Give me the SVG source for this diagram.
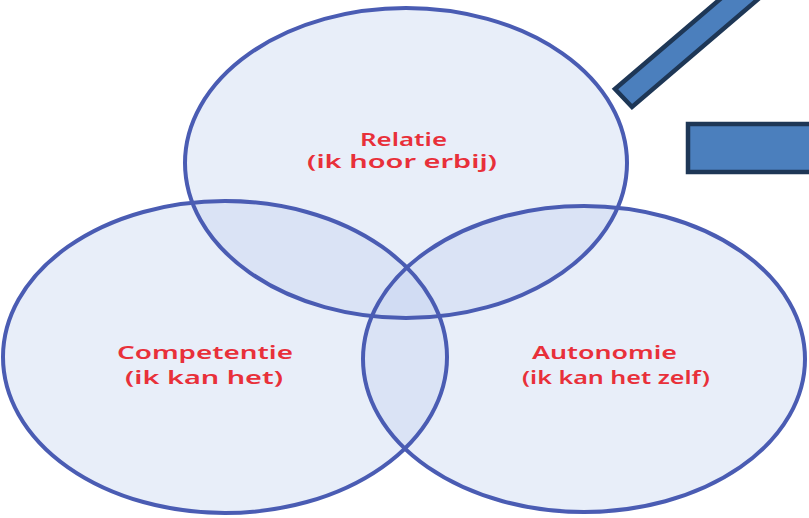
<svg xmlns="http://www.w3.org/2000/svg" width="809" height="518" viewBox="0 0 809 518">
<style>
.fill{fill:#c3d1ee;fill-opacity:0.38;stroke:none}
.ring{fill:none;stroke:#4a5cb3;stroke-width:4}
.lbl{font-family:"Noto Sans","Liberation Sans",sans-serif;font-weight:600;font-size:18px;fill:#e8303a;text-anchor:start}
.bar{fill:#4b7fbd;stroke:#1e3756;stroke-width:4.5;stroke-linejoin:miter}
</style>
<rect width="809" height="518" fill="#ffffff"/>
<g id="fills">
<ellipse class="fill" cx="406" cy="163" rx="221" ry="155"/>
<ellipse class="fill" cx="225" cy="357" rx="222" ry="156"/>
<ellipse class="fill" cx="584" cy="359" rx="221" ry="153"/>
</g>
<g id="relatie">
<ellipse class="ring" cx="406" cy="163" rx="221" ry="155"/>
<text class="lbl" x="360" y="146" textLength="87" lengthAdjust="spacingAndGlyphs">Relatie</text>
<text class="lbl" x="307" y="168" textLength="190" lengthAdjust="spacingAndGlyphs">(ik hoor erbij)</text>
</g>
<g id="competentie">
<ellipse class="ring" cx="225" cy="357" rx="222" ry="156"/>
<text class="lbl" x="117" y="359" textLength="176" lengthAdjust="spacingAndGlyphs">Competentie</text>
<text class="lbl" x="125" y="384" textLength="158" lengthAdjust="spacingAndGlyphs">(ik kan het)</text>
</g>
<g id="autonomie">
<ellipse class="ring" cx="584" cy="359" rx="221" ry="153"/>
<text class="lbl" x="532" y="359" textLength="145" lengthAdjust="spacingAndGlyphs">Autonomie</text>
<text class="lbl" x="522" y="384" textLength="188" lengthAdjust="spacingAndGlyphs">(ik kan het zelf)</text>
</g>
<g id="bars">
<polygon class="bar" points="615,89 632,107 784,-23 767,-41"/>
<rect class="bar" x="688" y="124" width="140" height="48"/>
</g>
</svg>
